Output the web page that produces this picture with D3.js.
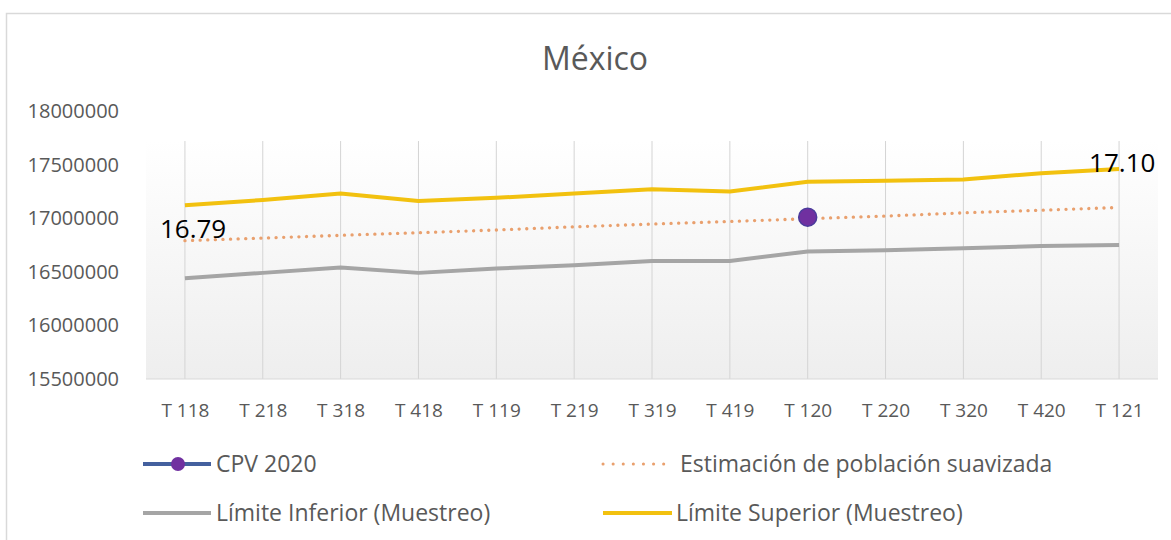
<!DOCTYPE html>
<html>
<head>
<meta charset="utf-8">
<script src="https://cdn.jsdelivr.net/npm/d3@7"></script>
<style>
  body { margin: 0; background: #fff; }
  text { font-family: "Open Sans", "Noto Sans", sans-serif; }
</style>
</head>
<body>
<div id="chart"></div>
<script>
const W = 1171, H = 540;

// data
const periods = ["T 118", "T 218", "T 318", "T 418", "T 119", "T 219", "T 319",
                 "T 419", "T 120", "T 220", "T 320", "T 420", "T 121"];
const upper = [17120000, 17170000, 17230000, 17160000, 17190000, 17230000, 17270000,
               17250000, 17340000, 17350000, 17360000, 17420000, 17460000];
const lower = [16440000, 16490000, 16540000, 16490000, 16530000, 16560000, 16600000,
               16600000, 16690000, 16700000, 16720000, 16740000, 16750000];
const smooth = [16790000, 16815000, 16840000, 16865000, 16890000, 16920000, 16945000,
                16970000, 16995000, 17020000, 17050000, 17075000, 17100000];
const cpv = [{ period: "T 120", value: 17010000 }];
const yTicks = [15500000, 16000000, 16500000, 17000000, 17500000, 18000000];
const endLabels = [{ i: 0, text: "16.79" }, { i: 12, text: "17.10" }];

const margin = { left: 146, right: 13, top: 111, bottom: 161 };

const svg = d3.select("#chart").append("svg")
    .attr("width", W).attr("height", H);

// outer chart frame
svg.append("rect")
    .attr("x", 6.5).attr("y", 13.5)
    .attr("width", W + 10).attr("height", H)
    .attr("fill", "#fff").attr("stroke", "#d9d9d9").attr("stroke-width", 1.5);

const x = d3.scalePoint()
    .domain(periods)
    .range([margin.left, W - margin.right])
    .padding(0.5);
const y = d3.scaleLinear()
    .domain([15500000, 18000000])
    .range([H - margin.bottom, margin.top]);

const plotTop = y(17720000);

const defs = svg.append("defs");
const grad = defs.append("linearGradient").attr("id", "bg")
    .attr("x1", 0).attr("y1", 0).attr("x2", 0).attr("y2", 1);
grad.append("stop").attr("offset", "0%").attr("stop-color", "#ffffff");
grad.append("stop").attr("offset", "100%").attr("stop-color", "#eeeeee");

// plot background
svg.append("rect")
    .attr("x", margin.left).attr("y", plotTop)
    .attr("width", W - margin.right - margin.left)
    .attr("height", y(15500000) - plotTop)
    .attr("fill", "url(#bg)");

// vertical grid lines
svg.append("g").selectAll("line").data(periods).join("line")
    .attr("x1", d => x(d)).attr("x2", d => x(d))
    .attr("y1", plotTop).attr("y2", y(15500000))
    .attr("stroke", "#d4d4d4").attr("stroke-width", 1);

// baseline
svg.append("line")
    .attr("x1", margin.left).attr("x2", W - margin.right)
    .attr("y1", y(15500000)).attr("y2", y(15500000))
    .attr("stroke", "#d9d9d9").attr("stroke-width", 1);

// y axis labels
const yAxis = d3.axisLeft(y).tickValues(yTicks).tickSize(0).tickPadding(0)
    .tickFormat(d3.format("d"));
svg.append("g").attr("transform", "translate(119,0)").call(yAxis)
    .attr("font-size", null).attr("font-family", null)
    .call(g => g.select(".domain").remove())
    .selectAll("text")
    .style("font-size", "20px").attr("fill", "#595959");

// x axis labels
const xAxis = d3.axisBottom(x).tickSize(0).tickPadding(0);
svg.append("g").attr("transform", "translate(0,403)").call(xAxis)
    .attr("font-size", null).attr("font-family", null)
    .call(g => g.select(".domain").remove())
    .selectAll("text")
    .style("font-size", "19px").attr("fill", "#595959");

const line = d3.line().x((d, i) => x(periods[i])).y(d => y(d));

svg.append("path").datum(lower)
    .attr("d", line).attr("fill", "none")
    .attr("stroke", "#a5a5a5").attr("stroke-width", 4).attr("stroke-linejoin", "round");

svg.append("path").datum(upper)
    .attr("d", line).attr("fill", "none")
    .attr("stroke", "#f2c10f").attr("stroke-width", 4).attr("stroke-linejoin", "round");

svg.append("path").datum(smooth)
    .attr("d", line).attr("fill", "none")
    .attr("stroke", "#e9a06e").attr("stroke-width", 3.3)
    .attr("stroke-dasharray", "0.1 7.5").attr("stroke-linecap", "round");

svg.append("g").selectAll("circle").data(cpv).join("circle")
    .attr("cx", d => x(d.period)).attr("cy", d => y(d.value))
    .attr("r", 9)
    .attr("fill", "#7030a0").attr("stroke", "#4b3b9c").attr("stroke-width", 1.5);

// end value labels
svg.append("g").selectAll("text").data(endLabels).join("text")
    .attr("x", d => d.i === 0 ? x(periods[d.i]) - 25 : x(periods[d.i]) - 30)
    .attr("y", d => d.i === 0 ? y(smooth[d.i]) - 3 : y(upper[d.i]) + 3)
    .style("font-size", "26px").attr("fill", "#000")
    .text(d => d.text);

// title
svg.append("text")
    .attr("x", 595).attr("y", 70)
    .attr("text-anchor", "middle")
    .style("font-size", "32px").attr("fill", "#595959")
    .text("México");

// legend
const legend = [
    { name: "CPV 2020", x: 143, y: 464, color: "#44609e", dash: null, marker: true, w: 68 },
    { name: "Estimación de población suavizada", x: 603, y: 464, color: "#e9a06e", dash: "0.1 10", marker: false, w: 66 },
    { name: "Límite Inferior (Muestreo)", x: 143, y: 513, color: "#a5a5a5", dash: null, marker: false, w: 68 },
    { name: "Límite Superior (Muestreo)", x: 603, y: 513, color: "#f2c10f", dash: null, marker: false, w: 69 }
];
const lg = svg.append("g").selectAll("g").data(legend).join("g")
    .attr("transform", d => `translate(${d.x},${d.y})`);
lg.append("line")
    .attr("x1", 0).attr("x2", d => d.w).attr("y1", 0).attr("y2", 0)
    .attr("stroke", d => d.color)
    .attr("stroke-width", d => d.dash ? 3 : 4)
    .attr("stroke-dasharray", d => d.dash)
    .attr("stroke-linecap", d => d.dash ? "round" : "butt");
lg.filter(d => d.marker).append("circle")
    .attr("cx", 35).attr("cy", 0).attr("r", 7)
    .attr("fill", "#7030a0");
lg.append("text")
    .attr("x", d => d.dash ? 77 : 73).attr("y", 8)
    .style("font-size", "23px").attr("fill", "#595959")
    .text(d => d.name);
</script>
</body>
</html>
